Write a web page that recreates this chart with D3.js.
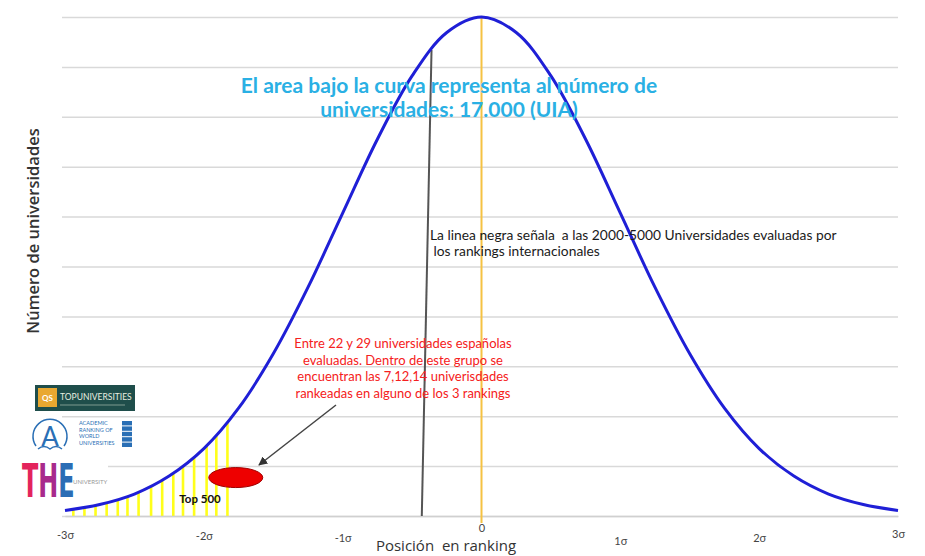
<!DOCTYPE html>
<html><head><meta charset="utf-8">
<script src="https://cdn.jsdelivr.net/npm/d3@7"></script>
<style>html,body{margin:0;padding:0;background:#fff;}svg{display:block;}</style>
</head><body>
<svg id="chart" width="925" height="556"></svg>
<script>
// ---- data ----
const xTicks = [-3, -2, -1, 0, 1, 2, 3];
const xTickLabels = ["-3σ", "-2σ", "-1σ", "0", "1σ", "2σ", "3σ"];
const gridValues = [0, 1, 2, 3, 4, 5, 6, 7, 8, 9, 10];
const curveX = [-3, -2.75, -2.5, -2.25, -2, -1.75, -1.5, -1.25, -1, -0.75, -0.5, -0.25, 0,
                0.25, 0.5, 0.75, 1, 1.25, 1.5, 1.75, 2, 2.25, 2.5, 2.75, 3];
const curveY = [0.11, 0.23, 0.44, 0.80, 1.35, 2.16, 3.25, 4.58, 6.07, 7.55, 8.82, 9.69, 10,
                9.69, 8.82, 7.55, 6.07, 4.58, 3.25, 2.16, 1.35, 0.80, 0.44, 0.23, 0.11];
const hatchX = [-2.94, -2.86, -2.78, -2.70, -2.62, -2.55, -2.47, -2.38, -2.30, -2.22, -2.15, -2.07, -1.98, -1.91, -1.83];
const blackLineX = [-0.36, -0.43];   // top, bottom
const meanX = 0;
const top500 = { x: -1.77, y: 0.77, label: "Top 500" };
const titleLines = ["El area bajo la curva representa al número de", "universidades: 17.000 (UIA)"];
const blackNote = ["La linea negra señala  a las 2000-5000 Universidades evaluadas por", " los rankings internacionales"];
const redNote = ["Entre 22 y 29 universidades españolas", "evaluadas. Dentro de este grupo se",
                 "encuentran las 7,12,14 univerisdades", "rankeadas en alguno de los 3 rankings"];
const yLabel = "Número de universidades";
const xLabel = "Posición  en ranking";

// ---- styles ----
const tickDy = { "-3σ": 0, "-2σ": 1, "-1σ": 3, "0": -7, "1σ": 6, "2σ": 3, "3σ": -1 };

// ---- drawing ----
const svg = d3.select("#chart");
const x = d3.scaleLinear().domain([-3, 3]).range([65, 898]);
const y = d3.scaleLinear().domain([0, 10]).range([516, 17]);
const pts = curveX.map((v, i) => [v, curveY[i]]);

// gridlines
const grid = svg.append("g").attr("transform", "translate(898,0)")
  .call(d3.axisLeft(y).tickValues(gridValues).tickSize(836).tickFormat(""));
grid.select(".domain").remove();
grid.selectAll(".tick line").attr("stroke", "#d9d9d9").attr("stroke-width", 1.5);

// clip for hatch
const area = d3.area().x(d => x(d[0])).y0(y(0)).y1(d => y(d[1])).curve(d3.curveCatmullRom);
svg.append("clipPath").attr("id", "under").append("path").attr("d", area(pts));
svg.append("g").attr("clip-path", "url(#under)")
  .selectAll("line").data(hatchX).join("line")
  .attr("x1", d => x(d)).attr("x2", d => x(d))
  .attr("y1", y(0)).attr("y2", y(6))
  .attr("stroke", "#ffff1a").attr("stroke-width", 2.6);

// x axis
const xa = svg.append("g").attr("transform", `translate(0,${y(0)})`)
  .call(d3.axisBottom(x).tickValues(xTicks).tickSize(0).tickPadding(15)
        .tickFormat((d, i) => xTickLabels[i]));
xa.select(".domain").attr("stroke", "#d0d0d0").attr("stroke-width", 1.5);
xa.selectAll("text").attr("font-family", "Lato, sans-serif").attr("font-size", 11).attr("fill", "#444")
  .attr("transform", (d, i) => `translate(0,${tickDy[xTickLabels[i]]})`);

// mean line (yellow)
svg.append("line").attr("x1", x(meanX)).attr("x2", x(meanX))
  .attr("y1", y(10)).attr("y2", y(0) + 7)
  .attr("stroke", "#f5c242").attr("stroke-width", 2);

// black line
svg.append("line").attr("x1", x(blackLineX[0])).attr("x2", x(blackLineX[1]))
  .attr("y1", 50).attr("y2", y(0))
  .attr("stroke", "#555").attr("stroke-width", 2);

// curve
const line = d3.line().x(d => x(d[0])).y(d => y(d[1])).curve(d3.curveCatmullRom);
svg.append("path").attr("d", line(pts)).attr("fill", "none")
  .attr("stroke", "#1f1fd6").attr("stroke-width", 3);

// title
svg.append("text").attr("font-family", "Lato, sans-serif").attr("font-weight", "bold")
  .attr("font-size", 21).attr("fill", "#2ab0e4").attr("text-anchor", "middle")
  .selectAll("tspan").data(titleLines).join("tspan")
  .attr("x", 449).attr("y", (d, i) => 93 + i * 24).text(d => d);

// black note
svg.append("text").attr("font-family", "Lato, sans-serif").attr("font-size", 13.8).attr("fill", "#1a1a1a")
  .style("white-space", "pre")
  .selectAll("tspan").data(blackNote).join("tspan")
  .attr("x", 430).attr("y", (d, i) => 240 + i * 16).text(d => d);

// red note
svg.append("text").attr("font-family", "Lato, sans-serif").attr("font-size", 13).attr("fill", "#f52020")
  .attr("text-anchor", "middle")
  .selectAll("tspan").data(redNote).join("tspan")
  .attr("x", 403).attr("y", (d, i) => 348 + i * 16.5).text(d => d);

// arrow
const defs = svg.append("defs");
defs.append("marker").attr("id", "arr").attr("viewBox", "0 0 10 10").attr("refX", 9).attr("refY", 5)
  .attr("markerWidth", 6).attr("markerHeight", 6).attr("orient", "auto")
  .append("path").attr("d", "M0,0L10,5L0,10z").attr("fill", "#333");
svg.append("line").attr("x1", 336).attr("y1", 405).attr("x2", 259).attr("y2", 465)
  .attr("stroke", "#444").attr("stroke-width", 1.5).attr("marker-end", "url(#arr)");

// ellipse + Top 500
svg.append("ellipse").attr("cx", x(top500.x)).attr("cy", y(top500.y)).attr("rx", 27).attr("ry", 10)
  .attr("fill", "#ee0000").attr("stroke", "#a00000").attr("stroke-width", 1);
svg.append("text").attr("x", 200).attr("y", 503).attr("text-anchor", "middle")
  .attr("font-family", "Lato, sans-serif").attr("font-weight", "bold").attr("font-size", 11.5)
  .attr("fill", "#111").text(top500.label);

// axis labels
svg.append("text").attr("transform", "translate(39,231) rotate(-90)").attr("text-anchor", "middle")
  .attr("font-family", "Open Sans, sans-serif").attr("font-size", 16.5).attr("font-weight", 600).attr("fill", "#333")
  .text(yLabel);
svg.append("text").attr("x", 446).attr("y", 551).attr("text-anchor", "middle")
  .attr("font-family", "Open Sans, sans-serif").attr("font-size", 15).attr("fill", "#333")
  .style("white-space", "pre").text(xLabel);

// logos
const lg = svg.append("g").attr("font-family", "Lato, sans-serif");
// QS top universities
lg.append("rect").attr("x", 35).attr("y", 385).attr("width", 100).attr("height", 26).attr("fill", "#1f4e4b");
lg.append("rect").attr("x", 38).attr("y", 388).attr("width", 19).attr("height", 19).attr("fill", "#e9a830");
lg.append("text").attr("x", 47.5).attr("y", 401).attr("text-anchor", "middle").attr("font-size", 8)
  .attr("font-weight", "bold").attr("fill", "#fff").text("QS");
lg.append("text").attr("x", 60).attr("y", 400).attr("font-size", 8.5).attr("fill", "#e8efe0")
  .text("TOPUNIVERSITIES");
lg.append("line").attr("x1", 60).attr("x2", 125).attr("y1", 405).attr("y2", 405)
  .attr("stroke", "#7f9a90").attr("stroke-width", 1);
// ARWU
lg.append("path").attr("d", "M36,446 A17,17 0 1 1 64,446").attr("fill", "none")
  .attr("stroke", "#2a6fb5").attr("stroke-width", 1.5);
lg.append("text").attr("x", 50).attr("y", 446).attr("text-anchor", "middle").attr("font-size", 26)
  .attr("fill", "#2a6fb5").text("A");
lg.append("path").attr("d", "M38,449 Q44,444 50,449 Q56,444 62,449").attr("fill", "none")
  .attr("stroke", "#2a6fb5").attr("stroke-width", 1.5);
["ACADEMIC", "RANKING OF", "WORLD", "UNIVERSITIES"].forEach((t, i) => {
  lg.append("text").attr("x", 79).attr("y", 425 + i * 6.5).attr("font-size", 5.5)
    .attr("fill", "#2a6fb5").text(t);
});
for (let i = 0; i < 5; i++) {
  lg.append("rect").attr("x", 122).attr("y", 421 + i * 5.4).attr("width", 10).attr("height", 4.4)
    .attr("fill", "#2a6fb5");
}
// THE
lg.append("rect").attr("x", 18).attr("y", 455).attr("width", 90).attr("height", 46).attr("fill", "#fff");
const the = lg.append("text").attr("transform", "translate(22,497) scale(0.52,1)")
  .attr("font-family", "DejaVu Sans, sans-serif").attr("font-weight", "bold").attr("font-size", 46);
the.append("tspan").attr("fill", "#e3245c").text("T");
the.append("tspan").attr("fill", "#a82a8c").text("H");
the.append("tspan").attr("fill", "#2b6db5").text("E");
lg.append("text").attr("x", 73).attr("y", 484).attr("font-size", 6).attr("fill", "#999").text("UNIVERSITY");
</script>
</body></html>
